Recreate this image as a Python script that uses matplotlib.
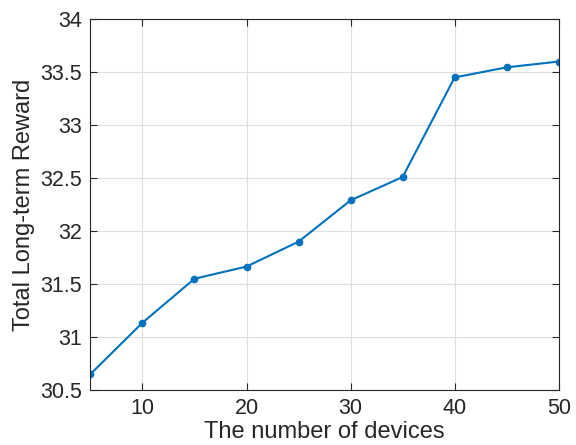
import matplotlib
matplotlib.use('Agg')
import matplotlib.pyplot as plt

# Data
devices = [5, 10, 15, 20, 25, 30, 35, 40, 45, 50]
reward = [30.65, 31.135, 31.55, 31.665, 31.90, 32.29, 32.51, 33.45, 33.545, 33.60]
x_ticks = [10, 20, 30, 40, 50]
y_ticks = [30.5, 31, 31.5, 32, 32.5, 33, 33.5, 34]
y_tick_labels = ['30.5', '31', '31.5', '32', '32.5', '33', '33.5', '34']

plt.rcParams['font.family'] = ['Liberation Sans', 'DejaVu Sans']

fig = plt.figure(figsize=(5.76, 4.45), dpi=100)
ax = fig.add_axes([0.157, 0.1236, 0.813, 0.8334])

ax.plot(devices, reward, color='#0072BD', linewidth=1.5, marker='o', markersize=4.5)

ax.set_xlim(5, 50)
ax.set_ylim(30.5, 34)
ax.set_xticks(x_ticks)
ax.set_yticks(y_ticks)
ax.set_yticklabels(y_tick_labels)

ax.grid(True, color='#dfdfdf', linewidth=0.8)
ax.set_axisbelow(True)

for side in ax.spines.values():
    side.set_color('#262626')
    side.set_linewidth(0.8)

ax.tick_params(direction='in', top=True, right=True, length=5, width=0.8,
               color='#262626', labelcolor='#262626', labelsize=15.5, pad=6)

ax.set_xlabel('The number of devices', fontsize=17, color='#262626', labelpad=1)
ax.set_ylabel('Total Long-term Reward', fontsize=17, color='#262626', labelpad=4)

fig.savefig('out.png', dpi=100)
